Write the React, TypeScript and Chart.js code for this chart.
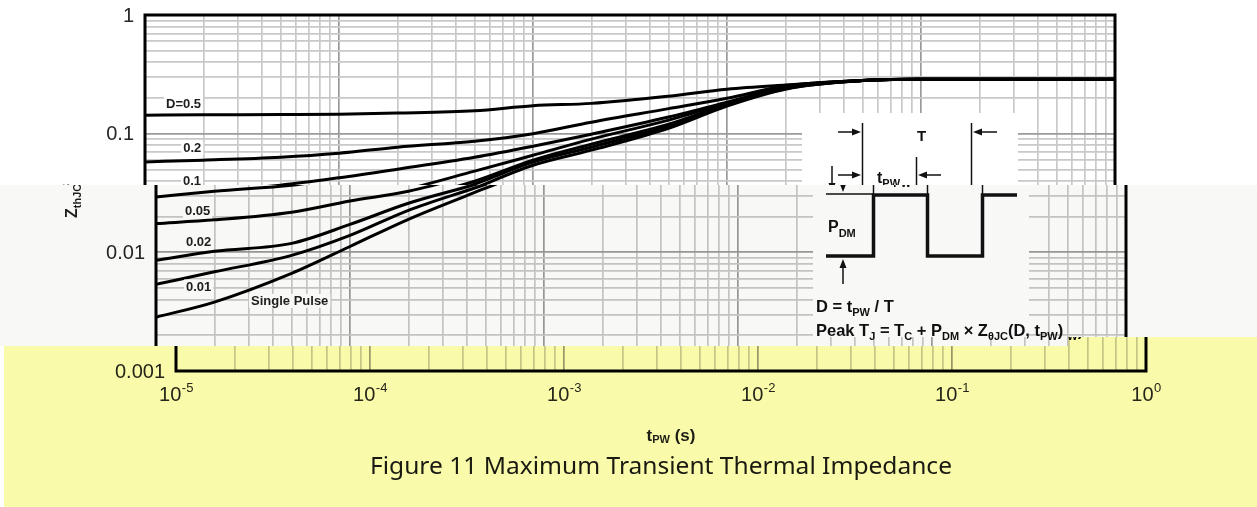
import React, { useEffect, useRef } from 'react';
import { Chart, registerables } from 'chart.js';
Chart.register(...registerables);

const W = 1257;
const H = 507;

// ---- data ----
const tValues = [1e-5, 2e-5, 5e-5, 1e-4, 2e-4, 5e-4, 1e-3, 2e-3, 5e-3, 1e-2, 2e-2, 5e-2, 1e-1, 1];
const zD05 = [0.143, 0.144, 0.145, 0.146, 0.149, 0.156, 0.172, 0.18, 0.207, 0.237, 0.257, 0.28, 0.287, 0.288];
const zD02 = [0.0578, 0.0598, 0.0633, 0.0684, 0.0769, 0.0864, 0.1, 0.125, 0.1625, 0.199, 0.252, 0.28, 0.287, 0.288];
const zD01 = [0.0293, 0.0327, 0.0368, 0.0425, 0.0502, 0.0633, 0.0784, 0.099, 0.138, 0.184, 0.247, 0.28, 0.287, 0.288];
const zD005 = [0.01747, 0.0188, 0.0218, 0.0271, 0.0327, 0.0483, 0.0658, 0.0899, 0.13, 0.181, 0.247, 0.28, 0.287, 0.288];
const zD002 = [0.00856, 0.0102, 0.0119, 0.0172, 0.0259, 0.0397, 0.0598, 0.0815, 0.12, 0.177, 0.242, 0.28, 0.287, 0.288];
const zD001 = [0.00537, 0.00685, 0.00943, 0.0139, 0.0226, 0.0375, 0.0575, 0.0769, 0.116, 0.174, 0.24, 0.28, 0.287, 0.288];
const zSingle = [0.00284, 0.00381, 0.00665, 0.0112, 0.019, 0.0347, 0.0542, 0.0726, 0.111, 0.171, 0.237, 0.28, 0.287, 0.288];
const seriesZ = [zD05, zD02, zD01, zD005, zD002, zD001, zSingle];

const curveLabels = ['D=0.5', '0.2', '0.1', '0.05', '0.02', '0.01', 'Single Pulse'];
const curveLabelT = [1.283e-5, 1.575e-5, 1.57e-5, 1.411e-5, 1.428e-5, 1.428e-5, 3.09e-5];
const curveLabelZ = [0.179, 0.0754, 0.0397, 0.0222, 0.01215, 0.00516, 0.0039];

const xDecades = [1e-5, 1e-4, 1e-3, 1e-2, 1e-1, 1];
const xTickExp = ['-5', '-4', '-3', '-2', '-1', '0'];
const yDecades = [0.001, 0.01, 0.1, 1];
const yTickLabels = ['0.001', '0.01', '0.1', '1'];
const minorSteps = [2, 3, 4, 5, 6, 7, 8, 9];

const xTitleMain = 't';
const xTitleSub = 'PW';
const xTitleRest = ' (s)';
const figureTitle = 'Figure 11 Maximum Transient Thermal Impedance';

const YELLOW = '#fafbaa';
const OFFWHITE = '#f8f8f7';
const ARIAL = '"Liberation Sans", Arial, sans-serif';

function gridTicks(decades: number[]) {
  const out: any[] = [];
  decades.forEach((d, i) => {
    out.push({ value: d, major: true });
    if (i < decades.length - 1) minorSteps.forEach((m) => out.push({ value: m * d, major: false }));
  });
  return out;
}

function rich(c: any, x: number, y: number, parts: [string, boolean][], size: number, subSize: number, subDy: number) {
  let cx = x;
  for (const [txt, sub] of parts) {
    c.font = `bold ${sub ? subSize : size}px ${ARIAL}`;
    c.fillText(txt, cx, sub ? y + subDy : y);
    cx += c.measureText(txt).width;
  }
  return cx - x;
}

function arrow(c: any, x1: number, y1: number, x2: number, y2: number) {
  const a = Math.atan2(y2 - y1, x2 - x1);
  const L = 9;
  const hw = 3.5;
  const bx = x2 - L * Math.cos(a);
  const by = y2 - L * Math.sin(a);
  c.beginPath();
  c.moveTo(x1, y1);
  c.lineTo(bx, by);
  c.stroke();
  c.beginPath();
  c.moveTo(x2, y2);
  c.lineTo(bx + hw * Math.sin(a), by - hw * Math.cos(a));
  c.lineTo(bx - hw * Math.sin(a), by + hw * Math.cos(a));
  c.closePath();
  c.fill();
}

function drawInset(c: any) {
  c.save();
  c.fillStyle = '#fff';
  c.fillRect(802, 113, 216, 224);
  c.strokeStyle = '#111';
  c.fillStyle = '#111';
  c.lineWidth = 1.5;
  const vl = (x: number, y1: number, y2: number) => {
    c.beginPath();
    c.moveTo(x, y1);
    c.lineTo(x, y2);
    c.stroke();
  };
  vl(862.5, 123, 195);
  vl(971.5, 123, 195);
  vl(916.5, 157, 195);
  arrow(c, 838, 132, 861, 132);
  arrow(c, 997, 132, 973, 132);
  arrow(c, 838, 175, 861, 175);
  arrow(c, 941, 175, 918, 175);
  arrow(c, 832, 166, 832, 192);
  arrow(c, 832, 284, 832, 259);
  c.beginPath();
  c.moveTo(815, 194);
  c.lineTo(862, 194);
  c.stroke();
  c.lineWidth = 3.5;
  c.lineJoin = 'miter';
  c.beginPath();
  c.moveTo(815, 256);
  c.lineTo(862.5, 256);
  c.lineTo(862.5, 195);
  c.lineTo(916.5, 195);
  c.lineTo(916.5, 256);
  c.lineTo(971.5, 256);
  c.lineTo(971.5, 195);
  c.lineTo(1006, 195);
  c.stroke();
  c.textBaseline = 'alphabetic';
  c.textAlign = 'left';
  c.font = `bold 15px ${ARIAL}`;
  c.fillText('T', 917, 141);
  rich(c, 877, 183, [['t', false], ['PW', true]], 16, 11, 4);
  rich(c, 817, 232, [['P', false], ['DM', true]], 16, 11, 5);
  rich(c, 805, 312, [['D = t', false], ['PW', true], [' / T', false]], 16.5, 11, 4);
  rich(
    c,
    805,
    336,
    [
      ['Peak T', false],
      ['J', true],
      [' = T', false],
      ['C', true],
      [' + P', false],
      ['DM', true],
      [' \u00d7 Z', false],
      ['\u03b8JC', true],
      ['(D, t', false],
      ['PW', true],
      [')', false],
    ],
    16.5,
    11,
    4
  );
  c.restore();
}

const overlay = {
  id: 'overlay',
  beforeDraw(chart: any) {
    const c = chart.ctx;
    c.save();
    c.fillStyle = '#fff';
    c.fillRect(0, 0, W, H);
    c.restore();
  },
  afterDatasetsDraw(chart: any) {
    const c = chart.ctx;
    const xs = chart.scales.x;
    const ys = chart.scales.y;
    const ca = chart.chartArea;
    c.save();
    // curve labels
    c.font = `bold 13px ${ARIAL}`;
    c.textBaseline = 'middle';
    c.textAlign = 'left';
    curveLabels.forEach((txt, i) => {
      const px = xs.getPixelForValue(curveLabelT[i]);
      const py = ys.getPixelForValue(curveLabelZ[i]);
      const w = c.measureText(txt).width;
      c.fillStyle = '#fff';
      c.fillRect(px - 2, py - 7, w + 4, 14);
      c.fillStyle = '#1e1e1e';
      c.fillText(txt, px, py + 0.5);
    });
    drawInset(c);
    // frame
    c.strokeStyle = '#000';
    c.lineWidth = 3;
    c.strokeRect(ca.left, ca.top, ca.right - ca.left, ca.bottom - ca.top);
    // y tick labels
    c.fillStyle = '#252525';
    c.font = `20px ${ARIAL}`;
    c.textAlign = 'right';
    c.textBaseline = 'middle';
    yDecades.forEach((v, i) => {
      c.fillText(yTickLabels[i], ca.left - 11, ys.getPixelForValue(v) + 1);
    });
    // x tick labels with superscript exponents
    c.textAlign = 'left';
    c.textBaseline = 'alphabetic';
    xDecades.forEach((v, i) => {
      const px = xs.getPixelForValue(v);
      c.font = `20px ${ARIAL}`;
      const w1 = c.measureText('10').width;
      c.font = `13px ${ARIAL}`;
      const w2 = c.measureText(xTickExp[i]).width;
      const x0 = px - (w1 + w2) / 2;
      c.font = `20px ${ARIAL}`;
      c.fillText('10', x0, ca.bottom + 30);
      c.font = `13px ${ARIAL}`;
      c.fillText(xTickExp[i], x0 + w1 + 0.5, ca.bottom + 21);
    });
    // x axis title
    const cx = (ca.left + ca.right) / 2 + 10;
    c.font = `bold 17px ${ARIAL}`;
    const wt = c.measureText(xTitleMain).width + c.measureText(xTitleRest).width;
    c.font = `bold 11px ${ARIAL}`;
    const ws = c.measureText(xTitleSub).width;
    c.fillStyle = '#1e1e1e';
    rich(c, cx - (wt + ws) / 2, ca.bottom + 70, [[xTitleMain, false], [xTitleSub, true], [xTitleRest, false]], 17, 11, 2);
    // y axis title (rotated)
    c.save();
    c.translate(ca.left - 79, 218);
    c.rotate(-Math.PI / 2);
    rich(c, 0, 0, [['Z', false], ['thJC', true]], 16, 11, 4);
    c.restore();
    // figure title, fitted to the width it has in the reference
    c.font = `23px "Noto Sans", "Open Sans", sans-serif`;
    c.textAlign = 'center';
    c.fillStyle = '#1a1a1a';
    const tw = c.measureText(figureTitle).width;
    const sx = 582 / tw;
    c.save();
    c.translate((ca.left + ca.right) / 2, ca.bottom + 103);
    c.scale(sx, 1);
    c.fillText(figureTitle, 0, 0);
    c.restore();
    c.restore();
  },
  afterDraw(chart: any) {
    const c = chart.ctx;
    const cv = chart.canvas;
    const copy = document.createElement('canvas');
    copy.width = cv.width;
    copy.height = cv.height;
    copy.getContext('2d')!.drawImage(cv, 0, 0);
    c.save();
    c.setTransform(1, 0, 0, 1, 0, 0);
    const rects = [
      { x0: 0, x1: 1068, y0: 185, y1: 346, dx: 11, tint: OFFWHITE, tx: 0 },
      { x0: 1068, x1: W, y0: 185, y1: 337, dx: 11, tint: OFFWHITE, tx: 1068 },
      { x0: 0, x1: 1068, y0: 346, y1: H, dx: 31, tint: YELLOW, tx: 4 },
      { x0: 1068, x1: W, y0: 337, y1: H, dx: 31, tint: YELLOW, tx: 1068 },
    ];
    for (const r of rects) {
      c.fillStyle = '#fff';
      c.fillRect(r.x0, r.y0, r.x1 - r.x0, r.y1 - r.y0);
      const sx0 = Math.max(0, r.x0 - r.dx);
      const sx1 = r.x1 - r.dx;
      const h = r.y1 - r.y0;
      c.drawImage(copy, sx0, r.y0, sx1 - sx0, h, sx0 + r.dx, r.y0, sx1 - sx0, h);
    }
    c.globalCompositeOperation = 'multiply';
    for (const r of rects) {
      c.fillStyle = r.tint;
      c.fillRect(r.tx, r.y0, r.x1 - r.tx, r.y1 - r.y0);
    }
    c.restore();
  },
};

export default function App() {
  const ref = useRef<HTMLCanvasElement>(null);
  useEffect(() => {
    const canvas = ref.current!;
    const datasets = seriesZ.map((zs, i) => ({
      label: curveLabels[i],
      data: tValues.map((t, j) => ({ x: t, y: zs[j] })),
      borderColor: '#000',
      borderWidth: 3,
      pointRadius: 0,
      fill: false,
      cubicInterpolationMode: 'monotone' as const,
    }));
    const gridColor = (ctx: any) => (ctx.tick && ctx.tick.major ? '#9a9a9a' : '#c9c9c9');
    const chart = new Chart(canvas, {
      type: 'line',
      data: { datasets },
      plugins: [overlay],
      options: {
        responsive: false,
        animation: false,
        devicePixelRatio: 1,
        events: [],
        layout: { padding: { left: 145, right: W - 1115, top: 15, bottom: H - 371 } },
        plugins: { legend: { display: false }, tooltip: { enabled: false }, title: { display: false } },
        scales: {
          x: {
            type: 'logarithmic',
            min: 1e-5,
            max: 1,
            afterBuildTicks: (s: any) => {
              s.ticks = gridTicks(xDecades);
            },
            ticks: { display: false },
            grid: { drawTicks: false, color: gridColor, lineWidth: 1.7 },
            border: { display: false },
          },
          y: {
            type: 'logarithmic',
            min: 0.001,
            max: 1,
            afterBuildTicks: (s: any) => {
              s.ticks = gridTicks(yDecades);
            },
            ticks: { display: false },
            grid: { drawTicks: false, color: gridColor, lineWidth: 1.7 },
            border: { display: false },
          },
        },
      } as any,
    });
    return () => chart.destroy();
  }, []);
  return (
    <div style={{ position: 'fixed', left: 0, top: 0, width: W, height: H, background: '#fff' }}>
      <canvas ref={ref} width={W} height={H} style={{ display: 'block', width: W, height: H }} />
    </div>
  );
}
